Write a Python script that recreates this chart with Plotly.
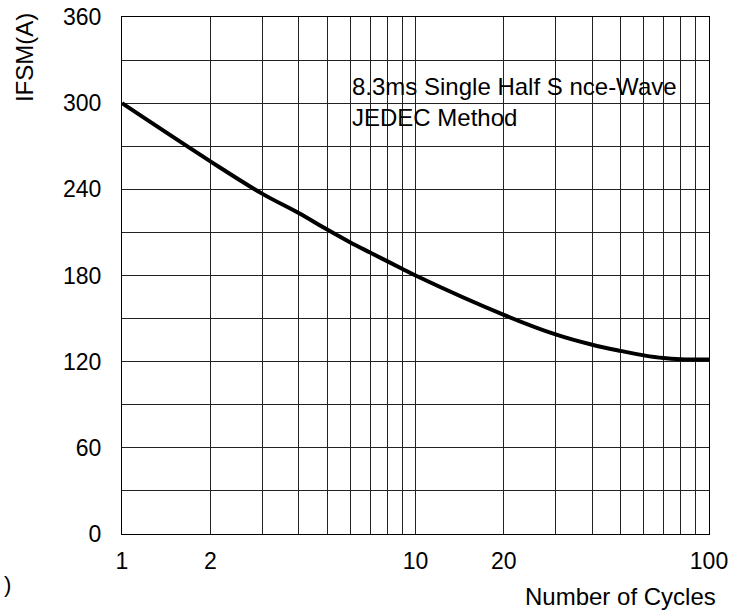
import plotly.graph_objects as go

# Data (x read on the log scale defined by the 1 / 10 / 100 decades)
cycles = [1, 2, 3, 4, 5, 6, 7, 8, 9, 10, 20, 30, 40, 50, 60, 70, 80, 90, 100]
ifsm = [300, 259.5, 237, 223.5, 212, 203, 196, 190, 184.7, 180, 152.6, 139, 131.8, 127.5, 124.4, 122.5, 121.7, 121.5, 121.5]

x_grid = [1, 2, 3, 4, 5, 6, 7, 8, 9, 10, 20, 30, 40, 50, 60, 70, 80, 90, 100]
x_labels = ["1", "2", "", "", "", "", "", "", "", "10", "20", "", "", "", "", "", "", "", "100"]
y_grid = [0, 30, 60, 90, 120, 150, 180, 210, 240, 270, 300, 330, 360]
y_labels = ["0", "", "60", "", "120", "", "180", "", "240", "", "300", "", "360"]

FONT = "Liberation Sans, Arial, sans-serif"

fig = go.Figure()
fig.add_trace(go.Scatter(
    x=cycles, y=ifsm, mode="lines",
    line=dict(color="black", width=4, shape="spline", smoothing=1.0),
    showlegend=False, hoverinfo="skip",
))

fig.update_layout(
    template="none",
    width=748, height=614,
    margin=dict(l=121.5, r=39, t=17, b=80, autoexpand=False),
    paper_bgcolor="white", plot_bgcolor="white",
    font=dict(family=FONT, size=23, color="black"),
    xaxis=dict(
        type="log", range=[0, 2], automargin=False,
        tickmode="array", tickvals=x_grid, ticktext=x_labels,
        showgrid=True, gridcolor="#222", gridwidth=1,
        showline=True, linecolor="black", linewidth=1, mirror=True,
        ticks="", ticklabelstandoff=6, zeroline=False,
    ),
    yaxis=dict(
        range=[0, 360], automargin=False,
        tickmode="array", tickvals=y_grid, ticktext=y_labels,
        showgrid=True, gridcolor="#222", gridwidth=1,
        showline=True, linecolor="black", linewidth=1, mirror=True,
        ticks="", ticklabelstandoff=15, zeroline=False,
    ),
    annotations=[
        dict(text="8.3ms Single Half S nce-Wave<br>JEDEC Method",
             xref="paper", yref="paper", x=(350 - 121.5) / 587.5, y=(534 - 102) / 517,
             xanchor="left", yanchor="middle", align="left", showarrow=False,
             font=dict(family=FONT, size=24, color="black")),
        dict(text="Number of Cycles",
             xref="paper", yref="paper", x=(620 - 121.5) / 587.5, y=(534 - 596) / 517,
             xanchor="center", yanchor="middle", showarrow=False,
             font=dict(family=FONT, size=24, color="black")),
        dict(text="IFSM(A)", textangle=-90,
             xref="paper", yref="paper", x=(24 - 121.5) / 587.5, y=(534 - 57.5) / 517,
             xanchor="center", yanchor="middle", showarrow=False,
             font=dict(family=FONT, size=24, color="black")),
        dict(text=")",
             xref="paper", yref="paper", x=(6.5 - 121.5) / 587.5, y=(534 - 584) / 517,
             xanchor="center", yanchor="middle", showarrow=False,
             font=dict(family=FONT, size=22, color="black")),
    ],
)

fig.write_html("out.html", config={"displayModeBar": False},
               post_script="document.body.style.margin='0';")
